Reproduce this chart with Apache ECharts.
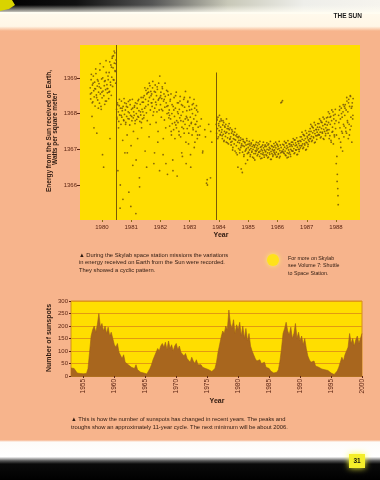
<!DOCTYPE html>
<html><head><meta charset="utf-8">
<script src="https://cdn.jsdelivr.net/npm/echarts@6/dist/echarts.min.js"></script>
<style>html,body{margin:0;padding:0;background:#F7B48C;}#c{width:380px;height:480px;}</style>
</head><body><div id="c"></div>
<script>
// ---- Chart 1: energy from the Sun (W/m²), readings every irrStep years from irrStart ----
const irrStart = 1979.6;
const irrStep = 0.015;
const irradiance = [
/*1979.60*/1368.72,1368.41,1368.95,1368.58,1367.92,1368.80,1368.33,1369.05,1368.64,1368.47,1368.88,1368.21,1368.69,1369.12,1368.52,1367.45,1368.77,1368.38,1368.91,1368.60,
/*1979.90*/1368.84,1368.29,1369.22,1368.55,1368.71,1368.12,1368.97,1368.44,1366.85,1368.63,1369.31,1368.50,1368.78,1368.26,1368.92,1368.67,1369.48,1368.35,1368.81,1368.58,
/*1980.20*/1368.70,1368.95,1368.42,1369.15,1368.62,1367.30,1368.88,1369.36,1368.51,1369.02,1369.55,1368.76,1369.28,1369.62,1368.94,1369.41,1369.70,1369.18,1368.85,1369.50,
/*1980.50*/1368.12,1367.85,1368.30,1366.40,1368.05,1367.78,1368.22,1367.96,1365.35,1368.15,1367.70,1368.35,1367.90,1368.08,1367.25,1368.20,1367.82,1368.42,1367.98,1366.90,
/*1980.80*/1368.10,1367.75,1368.28,1367.92,1367.40,1368.18,1367.86,1368.34,1365.80,1368.02,1367.68,1368.25,1367.95,1367.10,1368.12,1367.80,1368.40,1366.55,1367.88,1368.05,
/*1981.10*/1367.95,1368.22,1367.72,1368.30,1365.20,1368.00,1367.84,1368.15,1367.30,1368.36,1367.90,1368.08,1366.20,1367.78,1368.26,1367.96,1368.45,1367.60,1368.12,1367.85,
/*1981.40*/1368.05,1368.32,1367.88,1368.50,1368.15,1366.95,1368.40,1368.65,1368.02,1368.55,1367.80,1368.70,1368.25,1368.60,1367.35,1368.45,1368.78,1368.10,1368.62,1368.30,
/*1981.70*/1368.55,1368.20,1368.72,1367.95,1368.40,1366.60,1368.62,1368.15,1368.80,1368.32,1367.75,1368.50,1368.05,1368.68,1367.20,1368.38,1368.85,1368.10,1366.40,1368.45,
/*1982.00*/1368.25,1368.60,1367.90,1368.42,1368.75,1368.08,1366.85,1368.35,1368.55,1367.82,1368.18,1368.48,1367.60,1368.30,1368.65,1368.00,1366.30,1368.22,1368.52,1367.88,
/*1982.30*/1368.10,1367.65,1368.35,1367.85,1368.55,1367.40,1368.00,1367.72,1366.70,1368.20,1367.55,1368.45,1367.92,1367.30,1368.15,1367.68,1368.60,1367.80,1366.25,1368.05,
/*1982.60*/1367.75,1368.30,1367.50,1368.12,1367.88,1368.48,1367.35,1367.95,1368.25,1367.62,1366.80,1368.05,1367.78,1368.40,1367.45,1368.18,1367.70,1368.62,1367.20,1367.92,
/*1982.90*/1368.08,1367.58,1368.32,1367.82,1367.15,1368.20,1367.66,1368.45,1367.90,1366.50,1367.72,1368.12,1367.40,1368.00,1367.60,1368.28,1367.85,1367.05,1368.15,1367.70,
/*1983.20*/1367.95,1367.50,1368.22,1367.78,1367.30,1368.05,1367.62,null,null,1367.40,null,null,null,1367.85,null,null,1366.90,null,null,null,
/*1983.50*/null,1367.55,null,null,null,1366.05,null,1366.00,null,null,1367.70,null,null,null,1366.20,null,null,1367.20,null,null,
/*1983.80*/null,null,null,null,null,null,null,1367.70,1367.45,1367.82,1367.58,1367.90,1367.35,1367.66,1367.52,1367.78,1367.40,1367.62,1367.85,1367.48,
/*1984.10*/1367.55,1367.30,1367.68,1367.42,1367.75,1367.25,1367.50,1367.62,1367.36,1367.70,1367.20,1367.48,1367.58,1367.32,1367.65,1367.15,1367.44,1367.55,1367.28,1367.60,
/*1984.40*/1367.35,1367.12,1367.45,1367.22,1367.50,1367.05,1367.30,1367.40,1367.15,1367.48,1366.95,1367.26,1367.38,1367.10,1367.42,1366.85,1367.20,1367.33,1367.02,1367.36,
/*1984.70*/1367.18,1366.98,1367.25,1367.05,1366.45,1367.15,1367.28,1366.92,1367.10,1367.22,1366.80,1367.08,1367.20,1366.95,1366.60,1367.12,1367.02,1367.24,1366.88,1367.14,
/*1985.00*/1367.05,1366.90,1367.15,1366.98,1367.10,1366.85,1367.02,1367.18,1366.92,1367.08,1366.78,1367.00,1367.12,1366.88,1367.06,1366.70,1366.96,1367.14,1366.94,1367.04,
/*1985.30*/1366.98,1367.10,1366.86,1367.02,1366.92,1367.14,1366.80,1366.95,1367.06,1366.88,1367.00,1366.75,1366.96,1367.12,1366.90,1367.04,1366.84,1366.98,1367.08,1366.93,
/*1985.60*/1366.95,1367.08,1366.82,1367.00,1366.90,1367.12,1366.78,1366.98,1367.05,1366.86,1367.02,1366.72,1366.94,1367.10,1366.88,1367.00,1366.80,1366.96,1367.06,1366.92,
/*1985.90*/1366.98,1367.10,1366.85,1367.04,1366.92,1367.15,1366.80,1367.00,1367.08,1366.88,1367.02,1366.76,1366.96,1367.12,1366.90,1367.05,1368.32,1366.95,1368.36,1366.94,
/*1986.20*/1367.00,1367.12,1366.88,1367.06,1366.95,1367.18,1366.82,1367.02,1367.10,1366.90,1367.05,1366.78,1366.98,1367.15,1366.92,1367.08,1366.86,1367.00,1367.12,1366.96,
/*1986.50*/1367.08,1367.20,1366.95,1367.14,1367.02,1367.26,1366.90,1367.10,1367.18,1366.98,1367.12,1366.85,1367.06,1367.22,1367.00,1367.16,1366.94,1367.10,1367.24,1367.04,
/*1986.80*/1367.22,1367.35,1367.10,1367.28,1367.15,1367.42,1367.05,1367.25,1367.38,1367.12,1367.30,1366.98,1367.20,1367.45,1367.18,1367.32,1367.08,1367.26,1367.40,1367.22,
/*1987.10*/1367.42,1367.58,1367.30,1367.50,1367.36,1367.65,1367.25,1367.46,1367.60,1367.32,1367.52,1367.18,1367.44,1367.68,1367.38,1367.55,1367.28,1367.48,1367.62,1367.40,
/*1987.40*/1367.55,1367.72,1367.40,1367.62,1367.48,1367.80,1367.35,1367.58,1367.75,1367.45,1367.66,1367.30,1367.56,1367.85,1367.50,1367.70,1367.38,1367.60,1367.78,1367.52,
/*1987.70*/1367.68,1367.90,1367.45,1367.75,1367.55,1368.00,1367.38,1367.70,1367.92,1367.20,1367.80,1367.48,1367.62,1368.05,1367.15,1367.85,1367.40,1367.72,1367.98,1367.58,
/*1988.00*/1367.80,1367.40,1366.80,1366.30,1365.90,1365.45,1367.95,1367.30,1368.10,1367.60,1367.85,1367.05,1368.15,1367.50,1367.90,1366.95,1368.05,1367.70,1367.35,1368.20,
/*1988.30*/1367.95,1368.25,1367.60,1368.10,1367.45,1368.35,1367.80,1368.05,1367.30,1368.40,1367.70,1368.20,1367.55,1368.48,1367.90,1368.15,1367.20,1368.30,1367.85,1368.42
];
// second set of readings, every irrStep2 years from irrStart2
const irrStart2 = 1979.6075;
const irrStep2 = 0.03;
const irradiance2 = [
/*1979.6*/1368.55,1369.10,1368.30,1368.85,1367.60,1368.70,1369.25,1368.45,1368.95,1368.15,
/*1979.9*/1368.75,1369.40,1368.20,1368.60,1369.00,1366.50,1368.90,1368.35,1369.15,1368.70,
/*1980.2*/1369.05,1368.60,1369.45,1368.80,1369.30,1369.60,1368.95,1369.75,1369.20,1369.40,
/*1980.5*/1367.90,1368.25,1367.60,1368.40,1366.00,1367.95,1368.15,1365.60,1367.80,1368.30,
/*1980.8*/1367.70,1368.20,1366.90,1368.05,1367.85,1368.38,1365.40,1367.92,1368.15,1367.50,
/*1981.1*/1368.18,1367.80,1366.70,1368.28,1367.92,1368.40,1365.95,1368.05,1367.75,1368.32,
/*1981.4*/1368.45,1367.95,1368.72,1368.20,1366.50,1368.58,1368.35,1368.85,1367.70,1368.50,
/*1981.7*/1368.30,1368.90,1368.05,1366.90,1368.60,1368.25,1368.75,1367.50,1368.42,1369.05,
/*1982.0*/1368.50,1368.12,1368.70,1367.30,1368.40,1368.85,1366.60,1368.20,1368.62,1368.02,
/*1982.3*/1367.95,1368.40,1367.50,1368.25,1366.40,1368.10,1367.75,1368.50,1367.60,1368.30,
/*1982.6*/1368.00,1367.40,1368.35,1367.80,1366.90,1368.22,1367.58,1368.45,1367.85,1366.60,
/*1982.9*/1367.88,1368.35,1367.45,1368.10,1366.85,1367.75,1368.25,1367.55,1368.40,1367.20,
/*1983.2*/1367.70,1368.10,1367.40,null,null,1367.65,null,null,1366.95,null,
/*1983.5*/null,1367.35,null,1366.15,null,null,null,1367.50,null,null,
/*1983.8*/null,null,null,null,1367.85,1367.30,1367.72,1367.95,1367.42,1367.80,
/*1984.1*/1367.38,1367.80,1367.22,1367.65,1367.45,1367.85,1367.18,1367.58,1367.72,1367.30,
/*1984.4*/1367.20,1367.55,1366.98,1367.42,1367.28,1367.58,1366.90,1367.35,1366.50,1367.25,
/*1984.7*/1366.90,1367.32,1367.10,1366.35,1367.28,1366.85,1367.18,1366.98,1367.30,1366.70,
/*1985.0*/1366.92,1367.22,1366.80,1367.15,1366.95,1367.25,1366.75,1367.10,1366.88,1367.20,
/*1985.3*/1366.82,1367.18,1366.92,1367.22,1366.74,1367.08,1366.86,1367.20,1366.78,1367.12,
/*1985.6*/1366.85,1367.18,1366.76,1367.15,1366.90,1367.22,1366.72,1367.08,1366.84,1367.16,
/*1985.9*/1366.88,1367.20,1366.78,1367.12,1366.86,1367.22,1366.80,1368.30,1366.92,1367.14,
/*1986.2*/1366.90,1367.22,1366.84,1367.18,1366.76,1367.24,1366.88,1367.15,1366.80,1367.20,
/*1986.5*/1366.95,1367.30,1366.88,1367.26,1366.98,1367.32,1366.86,1367.22,1367.00,1367.35,
/*1986.8*/1367.10,1367.48,1367.02,1367.40,1367.16,1367.52,1367.00,1367.36,1367.14,1367.50,
/*1987.1*/1367.30,1367.70,1367.22,1367.62,1367.35,1367.75,1367.20,1367.56,1367.38,1367.72,
/*1987.4*/1367.42,1367.85,1367.32,1367.76,1367.48,1367.90,1367.28,1367.70,1367.44,1367.88,
/*1987.7*/1367.55,1368.05,1367.30,1367.90,1367.25,1368.10,1367.50,1367.95,1367.35,1368.12,
/*1988.0*/1366.60,1366.10,1365.70,1367.75,1368.20,1367.20,1368.00,1367.45,1368.25,1367.65,
/*1988.3*/1368.15,1367.50,1368.45,1367.75,1368.30,1367.40,1368.50,1367.65,1368.20,1367.95
];
const irrYearTicks = [1980,1981,1982,1983,1984,1985,1986,1987,1988];
const irrValueTicks = [1366,1367,1368,1369];
const irrGapLines = [1980.48, 1983.89];
const irrGapLineTop = [1369.92, 1369.15];

// ---- Chart 2: number of sunspots, one value every sunStep years from sunStart ----
const sunStart = 1953;
const sunStep = 0.25;
const sunspots = [
/*1953*/32,28,30,22, /*1954*/12,8,10,7, /*1955*/9,12,10,30, /*1956*/95,160,185,200,
/*1957*/175,205,250,195, /*1958*/210,180,200,170, /*1959*/195,160,175,150,
/*1960*/125,115,130,95, /*1961*/90,70,85,55, /*1962*/60,45,50,35, /*1963*/40,30,45,25,
/*1964*/20,15,22,12, /*1965*/10,8,15,30, /*1966*/45,65,80,95, /*1967*/110,100,120,130,
/*1968*/115,135,105,140, /*1969*/110,125,100,120, /*1970*/130,105,120,95,
/*1971*/100,80,90,70, /*1972*/65,55,75,60, /*1973*/50,65,45,40, /*1974*/45,35,40,30,
/*1975*/35,25,20,18, /*1976*/15,30,55,95, /*1977*/125,155,180,170, /*1978*/200,185,264,210,
/*1979*/190,225,170,205, /*1980*/185,215,160,200, /*1981*/150,190,140,170,
/*1982*/120,100,85,70, /*1983*/60,55,65,50, /*1984*/45,55,35,40, /*1985*/30,20,15,12,
/*1986*/10,15,25,60, /*1987*/110,170,190,215, /*1988*/180,165,195,150,
/*1989*/170,210,150,175, /*1990*/140,160,125,150, /*1991*/110,80,65,55,
/*1992*/50,60,40,45, /*1993*/35,42,28,30, /*1994*/25,20,22,15, /*1995*/12,8,6,10,
/*1996*/20,35,55,75, /*1997*/60,85,100,115, /*1998*/170,130,150,120, /*1999*/145,160,130,150,
/*2000*/170
];
const sunYearTicks = [1955,1960,1965,1970,1975,1980,1985,1990,1995,2000];

const PEACH = '#F7B48C', YELLOW = '#FFDE00', LABEL = '#5e2614', DARK = '#2e1a10';
const FF = '"Liberation Sans", Arial, sans-serif';
const plain = v => String(v);

const irrData = [];
irradiance.forEach((v, i) => { if (v !== null) irrData.push([irrStart + i * irrStep, v]); });
irradiance2.forEach((v, i) => { if (v !== null) irrData.push([irrStart2 + i * irrStep2, v]); });
const sunData = sunspots.map((v, i) => [sunStart + i * sunStep, v]);

const chart = echarts.init(document.getElementById('c'), null, {renderer: 'canvas'});
const txt = (x, y, s, o, rot) => ({type: 'text', x, y, z: 10, rotation: rot || 0,
  style: Object.assign({text: s, fill: DARK, fontFamily: FF, fontSize: 5.8, verticalAlign: 'middle'}, o || {})});
const V = Math.PI / 2;

chart.setOption({
  animation: false,
  backgroundColor: PEACH,
  grid: [
    {left: 80, top: 45, width: 280, height: 175, show: true, backgroundColor: YELLOW, borderWidth: 0},
    {left: 71, top: 301, width: 291, height: 75, show: true, backgroundColor: YELLOW, borderColor: '#D4901A', borderWidth: 1}
  ],
  xAxis: [
    {gridIndex: 0, type: 'value', min: 1979.25, max: 1988.82,
     axisLine: {show: false},
     axisTick: {show: true, customValues: irrYearTicks, length: 2, lineStyle: {color: '#8a6a10'}},
     axisLabel: {customValues: irrYearTicks, formatter: plain, fontSize: 6, color: LABEL, fontFamily: FF, margin: 4},
     splitLine: {show: false}},
    {gridIndex: 1, type: 'value', min: 1953, max: 2000,
     axisLine: {show: true, lineStyle: {color: '#B07020', width: 1}},
     axisTick: {show: true, customValues: sunYearTicks, length: 2, lineStyle: {color: LABEL}},
     axisLabel: {customValues: sunYearTicks, formatter: plain, rotate: 90, fontSize: 6.5, color: LABEL, fontFamily: FF, margin: 3},
     splitLine: {show: false}}
  ],
  yAxis: [
    {gridIndex: 0, type: 'value', min: 1365.02, max: 1369.92,
     axisLine: {show: false},
     axisTick: {show: true, customValues: irrValueTicks, length: 3, lineStyle: {color: LABEL}},
     axisLabel: {customValues: irrValueTicks, formatter: plain, fontSize: 6, color: LABEL, fontFamily: FF, margin: 3},
     splitLine: {show: false}},
    {gridIndex: 1, type: 'value', min: 0, max: 300, interval: 50,
     axisLine: {show: false},
     axisTick: {show: true, length: 2, lineStyle: {color: LABEL}},
     axisLabel: {formatter: plain, fontSize: 6, color: LABEL, fontFamily: FF, margin: 3},
     splitLine: {show: true, lineStyle: {color: '#E39A12', width: 1}}}
  ],
  series: [
    {type: 'scatter', xAxisIndex: 0, yAxisIndex: 0, data: irrData, symbolSize: 1.8,
     itemStyle: {color: '#76560a', opacity: 0.85}, silent: true,
     markLine: {silent: true, symbol: 'none', label: {show: false},
       lineStyle: {color: '#7a5a06', width: 1, type: 'solid'},
       data: irrGapLines.map((x, k) => [{coord: [x, irrGapLineTop[k]]}, {coord: [x, 1365.02]}])}},
    {type: 'line', xAxisIndex: 1, yAxisIndex: 1, data: sunData, showSymbol: false, silent: true,
     lineStyle: {width: 0.6, color: '#A0601A'}, areaStyle: {color: '#A8661E', opacity: 1}, z: 3}
  ],
  graphic: [
    // header band
    {type: 'rect', shape: {x: 0, y: 0, width: 380, height: 31}, z: 1,
     style: {fill: new echarts.graphic.LinearGradient(0, 0, 0, 1, [
       {offset: 0, color: '#fffdf2'}, {offset: 0.85, color: '#fff6e6'}, {offset: 1, color: PEACH}])}},
    {type: 'rect', shape: {x: 0, y: 0, width: 380, height: 12}, z: 2,
     style: {fill: new echarts.graphic.LinearGradient(0, 0, 1, 0, [
       {offset: 0, color: '#000'}, {offset: 0.2, color: '#111'}, {offset: 0.4, color: '#555'},
       {offset: 0.6, color: '#c8c8b8'}, {offset: 0.8, color: '#eeeeea'}, {offset: 1, color: '#f6f4ee'}])}},
    {type: 'rect', shape: {x: 0, y: 5, width: 380, height: 9}, z: 3,
     style: {fill: new echarts.graphic.LinearGradient(0, 0, 0, 1, [
       {offset: 0, color: 'rgba(255,253,242,0)'}, {offset: 1, color: 'rgba(255,253,242,1)'}])}},
    {type: 'polygon', shape: {points: [[0, 0], [12, 0], [15, 5], [9, 9], [0, 11]]}, z: 4,
     style: {fill: '#D9D400'}},
    txt(362, 16, 'THE SUN', {align: 'right', fontWeight: 'bold', fontSize: 6.5, fill: '#1a1a1a'}),
    // footer band
    {type: 'rect', shape: {x: 0, y: 440, width: 380, height: 40}, z: 1,
     style: {fill: new echarts.graphic.LinearGradient(0, 0, 0, 1, [
       {offset: 0, color: PEACH}, {offset: 0.05, color: '#fdfbf8'}, {offset: 0.42, color: '#ffffff'},
       {offset: 0.52, color: '#555'}, {offset: 0.6, color: '#0a0a0a'}, {offset: 1, color: '#000'}])}},
    {type: 'rect', shape: {x: 349, y: 454, width: 16, height: 14}, z: 2,
     style: {fill: '#F4EE2A', shadowBlur: 6, shadowColor: '#ffff40'}},
    txt(357, 461, '31', {align: 'center', fontWeight: 'bold', fontSize: 6.5, fill: '#111'}),
    // chart 1 axis titles
    txt(49, 131, 'Energy from the Sun received on Earth,', {align: 'center', fontWeight: 'bold', fontSize: 6.5, fill: DARK}, V),
    txt(55.5, 129, 'Watts per square meter', {align: 'center', fontWeight: 'bold', fontSize: 6.5, fill: DARK}, V),
    txt(221, 235, 'Year', {align: 'center', fontWeight: 'bold', fontSize: 7, fill: DARK}),
    // caption 1
    txt(79, 255, '\u25B2 During the Skylab space station missions the variations'),
    txt(79, 262.5, 'in energy received on Earth from the Sun were recorded.'),
    txt(79, 270, 'They showed a cyclic pattern.'),
    // side note
    {type: 'circle', shape: {cx: 273, cy: 260, r: 6}, z: 5,
     style: {fill: '#FFE21A', shadowBlur: 5, shadowColor: '#FFF060'}},
    txt(288, 258.5, 'For more on Skylab', {fontSize: 5.3}),
    txt(288, 266, 'see Volume 7: Shuttle', {fontSize: 5.3}),
    txt(288, 273.5, 'to Space Station.', {fontSize: 5.3}),
    // chart 2 axis titles
    txt(49, 338, 'Number of sunspots', {align: 'center', fontWeight: 'bold', fontSize: 7, fill: DARK}, V),
    txt(217, 401, 'Year', {align: 'center', fontWeight: 'bold', fontSize: 7, fill: DARK}),
    // caption 2
    txt(71, 419.5, '\u25B2 This is how the number of sunspots has changed in recent years. The peaks and'),
    txt(71, 427.5, 'troughs show an approximately 11-year cycle. The next minimum will be about 2006.')
  ]
});
</script></body></html>
